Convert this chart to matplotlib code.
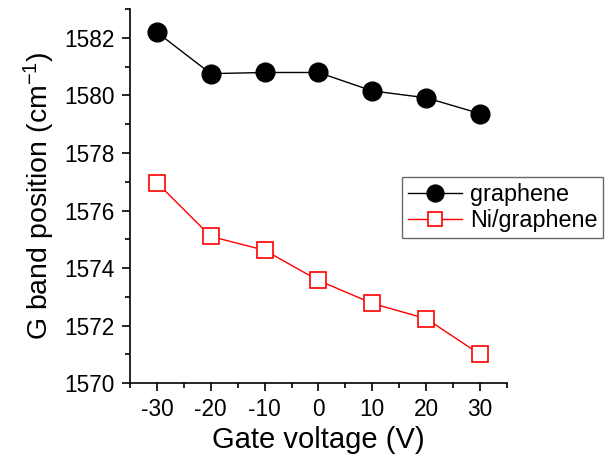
import matplotlib
matplotlib.use("Agg")
import matplotlib.pyplot as plt
from matplotlib.ticker import MultipleLocator

plt.rcParams['font.family'] = ['Liberation Sans', 'DejaVu Sans']
plt.rcParams['axes.unicode_minus'] = False
plt.rcParams['mathtext.fontset'] = 'custom'
plt.rcParams['mathtext.rm'] = 'Liberation Sans'
plt.rcParams['mathtext.it'] = 'Liberation Sans'
plt.rcParams['mathtext.default'] = 'regular'

gate_voltage = [-30, -20, -10, 0, 10, 20, 30]
graphene = [1582.2, 1580.76, 1580.8, 1580.8, 1580.16, 1579.92, 1579.37]
ni_graphene = [1576.97, 1575.1, 1574.62, 1573.57, 1572.77, 1572.24, 1571.0]

fig = plt.figure(figsize=(6.13, 4.61), dpi=100)
ax = fig.add_axes([0.212, 0.169, 0.615, 0.811])

ax.plot(gate_voltage, graphene, color='black', lw=1, marker='o', ms=13.5,
        mfc='black', mec='black', label='graphene')
ax.plot(gate_voltage, ni_graphene, color='red', lw=1, marker='s', ms=11.7,
        mfc='white', mec='red', mew=1.2, label='Ni/graphene')

ax.set_xlim(-35, 35)
ax.set_ylim(1570, 1583)
ax.xaxis.set_major_locator(MultipleLocator(10))
ax.xaxis.set_minor_locator(MultipleLocator(5))
ax.yaxis.set_major_locator(MultipleLocator(2))
ax.yaxis.set_minor_locator(MultipleLocator(1))
for s in ['top', 'right']:
    ax.spines[s].set_visible(False)
for s in ['left', 'bottom']:
    ax.spines[s].set_linewidth(1.2)
ax.tick_params(which='major', direction='out', length=6, width=1.2,
               labelsize=16.3, pad=5)
ax.tick_params(which='minor', direction='out', length=3.3, width=1.2)

ax.set_xlabel('Gate voltage (V)', fontsize=21, labelpad=3)
ax.set_ylabel('G band position (cm$^{-1}$)', fontsize=20.5, labelpad=5)

leg = ax.legend(loc='upper left', bbox_to_anchor=(402/613, 1 - 177/461),
                bbox_transform=fig.transFigure, fontsize=16.8, frameon=True,
                fancybox=False, handlelength=2.3, borderpad=0.25,
                labelspacing=0.15, handletextpad=0.35, borderaxespad=0,
                markerscale=0.9)
leg.get_frame().set_edgecolor('#444444')
leg.get_frame().set_linewidth(1.0)

fig.savefig('out.png', dpi=100)
